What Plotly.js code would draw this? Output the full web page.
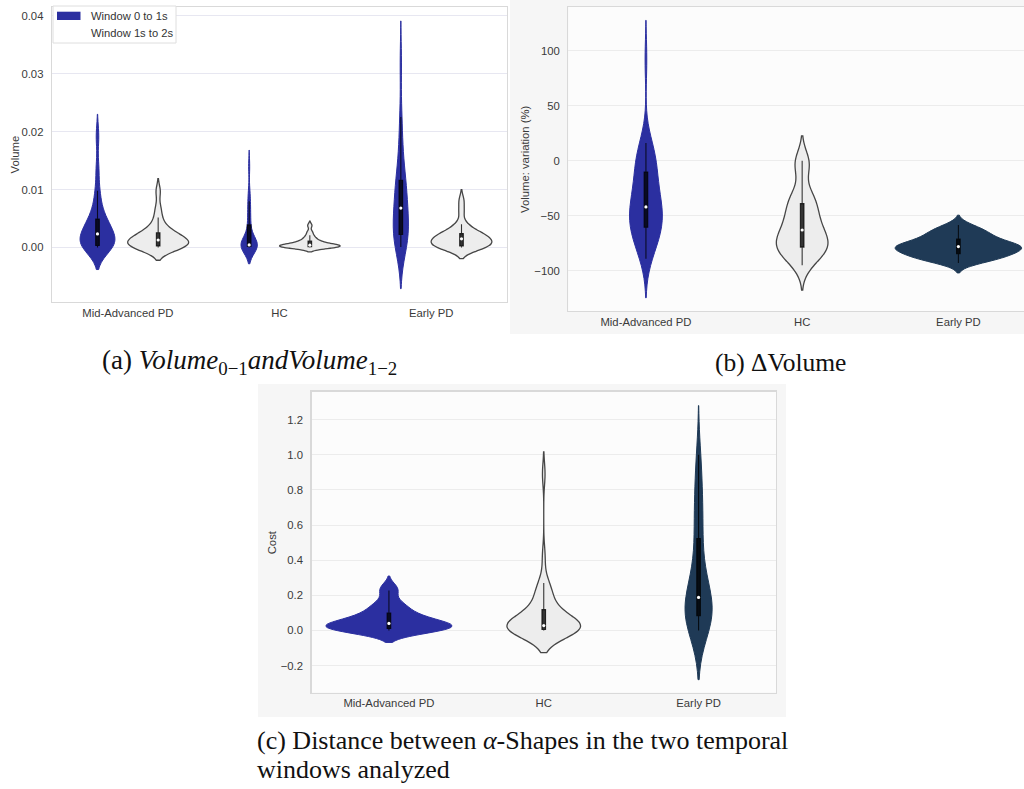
<!DOCTYPE html>
<html>
<head>
<meta charset="utf-8">
<script src="https://cdn.plot.ly/plotly-3.0.1.min.js"></script>
<style>
  html, body { margin: 0; padding: 0; background: #ffffff; }
  #chart { width: 1024px; height: 789px; }
</style>
</head>
<body>
<div id="chart"></div>
<script>
// Groups shown on every panel
const groups = ['Mid-Advanced PD', 'HC', 'Early PD'];
const legendLabels = ['Window 0 to 1s', 'Window 1s to 2s'];

// (a) Alpha-shape volume per subject, first and second temporal window
const volW01MidAdv = [0.0000, 0.0001, 0.0001, 0.0002, 0.0002, 0.0003, 0.0004, 0.0008, 0.0012, 0.0016, 0.0019, 0.0022,
                      0.0025, 0.0029, 0.0033, 0.0038, 0.0043, 0.0046, 0.0052, 0.0064, 0.0080, 0.0098, 0.0135, 0.0192];
const volW12MidAdv = [0.0000, 0.0000, 0.0001, 0.0001, 0.0002, 0.0002, 0.0003, 0.0005, 0.0007, 0.0009, 0.0010, 0.0012,
                      0.0014, 0.0016, 0.0018, 0.0020, 0.0022, 0.0024, 0.0027, 0.0033, 0.0040, 0.0052, 0.0068, 0.0097];
const volW01HC = [0.0000, 0.0000, 0.0001, 0.0001, 0.0001, 0.0002, 0.0002, 0.0002, 0.0003, 0.0003, 0.0004, 0.0004,
                  0.0005, 0.0007, 0.0010, 0.0015, 0.0022, 0.0033, 0.0045, 0.0055, 0.0068, 0.0080, 0.0095, 0.0140];
const volW12HC = [0.0000, 0.0000, 0.0000, 0.0001, 0.0001, 0.0001, 0.0002, 0.0002, 0.0002, 0.0003, 0.0003, 0.0004,
                  0.0004, 0.0005, 0.0006, 0.0007, 0.0008, 0.0010, 0.0012, 0.0014, 0.0017, 0.0021, 0.0027, 0.0038];
const volW01Early = [0.0001, 0.0005, 0.0010, 0.0014, 0.0018, 0.0021, 0.0024, 0.0030, 0.0037, 0.0045, 0.0053, 0.0062,
                     0.0074, 0.0081, 0.0089, 0.0097, 0.0104, 0.0110, 0.0122, 0.0135, 0.0158, 0.0190, 0.0225, 0.0319];
const volW12Early = [0.0000, 0.0000, 0.0001, 0.0001, 0.0002, 0.0002, 0.0003, 0.0005, 0.0008, 0.0010, 0.0012, 0.0014,
                     0.0016, 0.0017, 0.0018, 0.0020, 0.0021, 0.0023, 0.0025, 0.0029, 0.0035, 0.0040, 0.0062, 0.0081];

// (b) Volume variation between the two windows, in percent
const dVolMidAdv = [-89, -85, -81, -77, -74, -71, -68, -66, -64, -62, -60,
                    -58, -56, -54, -52, -50, -48, -47, -46, -44, -42,
                    -40, -37, -34, -31, -28, -25, -22, -19, -15, -11,
                    -8, -5, -2, 1, 4, 7, 10, 13, 16, 92];
const dVolHC = [-95, -90, -86, -83, -81, -80, -78, -76, -74, -72, -70, -68, -63,
                -60, -57, -53, -50, -45, -40, -36, -33, -30, -6, -2, 0];
const dVolEarly = [-93, -91, -89, -88, -87, -86, -84, -83, -82, -81, -80, -79, -78,
                   -77.5, -77, -76, -75, -73.5, -71.5, -70, -68, -66, -64, -62, -58.5];

// (c) Distance (cost) between the alpha-shapes of the two windows
const costMidAdv = [0.000, 0.002, 0.004, 0.006, 0.008, 0.010, 0.012, 0.016, 0.020, 0.025, 0.030, 0.035, 0.040,
                    0.046, 0.053, 0.060, 0.068, 0.080, 0.095, 0.110, 0.125, 0.145, 0.165, 0.228, 0.242];
const costHC = [0.000, 0.001, 0.001, 0.002, 0.002, 0.003, 0.003, 0.004, 0.005, 0.005, 0.006,
                0.008, 0.010, 0.012, 0.014, 0.016, 0.018, 0.020, 0.022, 0.025, 0.028,
                0.032, 0.037, 0.042, 0.048, 0.055, 0.063, 0.072, 0.083, 0.098, 0.115,
                0.130, 0.148, 0.168, 0.190, 0.212, 0.235, 0.255, 0.270, 0.420, 0.890];
const costEarly = [0.000, 0.015, 0.030, 0.045, 0.060, 0.075, 0.087, 0.100, 0.115, 0.130, 0.150, 0.168, 0.188,
                   0.210, 0.240, 0.280, 0.330, 0.410, 0.505, 0.580, 0.650, 0.720, 0.800, 0.900, 1.000];

// Axis ticks
const volTicks = [0, 0.01, 0.02, 0.03, 0.04];
const dVolTicks = [-100, -50, 0, 50, 100];
const costTicks = [-0.2, 0.0, 0.2, 0.4, 0.6, 0.8, 1.0, 1.2];

// ---------- styling ----------
const BLUE = '#2b2fa0';
const NAVY = '#1f3a56';
const LIGHT = '#ededed';
const EDGE = '#464646';
const INNER = 'rgba(0,0,0,0.78)';
const W = 1024, H = 789;
const px = v => v / W;            // horizontal pixel -> paper
const py = v => 1 - v / H;        // vertical pixel -> paper

function median(arr) {
  const s = arr.slice().sort((a, b) => a - b);
  const p = (s.length - 1) / 2, lo = Math.floor(p), hi = Math.ceil(p);
  return s[lo] + (s[hi] - s[lo]) * (p - lo);
}

// One violin with seaborn-like inner box (thick IQR bar, thin whiskers)
function violin(sfx, pos, values, o) {
  return {
    type: 'violin', xaxis: 'x' + sfx, yaxis: 'y' + sfx,
    x0: pos, y: values, width: o.width, bandwidth: o.bw,
    scalemode: 'width', spanmode: 'soft',
    fillcolor: o.fill, line: { color: o.edge, width: o.lw },
    points: false, hoverinfo: 'skip', showlegend: false,
    box: { visible: true, width: 3.6 / (o.width * o.ppu), fillcolor: INNER,
           line: { color: INNER, width: 1.1 } },
    meanline: { visible: false }
  };
}

function medianDots(sfx, list) {
  return {
    type: 'scatter', mode: 'markers', xaxis: 'x' + sfx, yaxis: 'y' + sfx,
    x: list.map(d => d[0]), y: list.map(d => median(d[1])),
    marker: { size: 3.2, color: '#ffffff', line: { width: 0 } },
    hoverinfo: 'skip', showlegend: false, cliponaxis: false
  };
}

const blueA = { fill: BLUE, edge: BLUE, lw: 1 };
const whiteA = { fill: LIGHT, edge: EDGE, lw: 1.3 };
const navyA = { fill: NAVY, edge: NAVY, lw: 1 };

const ppuA = 151.7, ppuB = 156.2, ppuC = 154.8;
const off = 0.2;  // hue offset inside a group (panel a)

const panelA = [
  [0 - off, volW01MidAdv, { ...blueA, width: 0.229, bw: 0.0019, ppu: ppuA }],
  [0 + off, volW12MidAdv, { ...whiteA, width: 0.40, bw: 0.0011, ppu: ppuA }],
  [1 - off, volW01HC, { ...blueA, width: 0.108, bw: 0.0014, ppu: ppuA }],
  [1 + off, volW12HC, { ...whiteA, width: 0.40, bw: 0.00037, ppu: ppuA }],
  [2 - off, volW01Early, { ...blueA, width: 0.10, bw: 0.0036, ppu: ppuA }],
  [2 + off, volW12Early, { ...whiteA, width: 0.40, bw: 0.00095, ppu: ppuA }]
];
const panelB = [
  [0, dVolMidAdv, { ...blueA, width: 0.21, bw: 17.8, ppu: ppuB }],
  [1, dVolHC, { ...whiteA, width: 0.33, bw: 11.3, ppu: ppuB }],
  [2, dVolEarly, { ...navyA, width: 0.81, bw: 4.5, ppu: ppuB }]
];
const panelC = [
  [0, costMidAdv, { ...blueA, width: 0.81, bw: 0.034, ppu: ppuC }],
  [1, costHC, { ...whiteA, width: 0.474, bw: 0.063, ppu: ppuC }],
  [2, costEarly, { ...navyA, width: 0.175, bw: 0.14, ppu: ppuC }]
];

const traces = [];
[['', panelA], ['2', panelB], ['3', panelC]].forEach(([sfx, list]) => {
  list.forEach(d => traces.push(violin(sfx, d[0], d[1], d[2])));
  traces.push(medianDots(sfx, list));
});

// ---------- axes ----------
const tickFont = { family: 'Liberation Sans, Arial, sans-serif', size: 11.3, color: '#3a3a3a' };
const FRAME = '#d9d9d9';

function xAxis(dom, range, anchor) {
  return {
    domain: dom, range: range, anchor: anchor, fixedrange: true,
    tickmode: 'array', tickvals: [0, 1, 2], ticktext: groups,
    showgrid: false, zeroline: false, ticks: '', ticklabelstandoff: 0,
    showline: true, linecolor: FRAME, linewidth: 1.3, mirror: true,
    tickfont: tickFont
  };
}
function yAxis(dom, range, anchor, tickvals, fmt, grid, mirror) {
  return {
    domain: dom, range: range, anchor: anchor, fixedrange: true,
    tickmode: 'array', tickvals: tickvals, tickformat: fmt,
    showgrid: true, gridcolor: grid, gridwidth: 1, zeroline: false,
    ticks: '', ticklabelstandoff: 5,
    showline: true, linecolor: FRAME, linewidth: 1.3, mirror: mirror,
    tickfont: tickFont
  };
}

const domA = { x: [px(52), px(507)], y: [py(302), py(7)] };
const domB = { x: [px(568.3), 1], y: [py(311), py(7)] };
const domC = { x: [px(311.5), px(776)], y: [py(692.5), py(391.7)] };

// ---------- decorations ----------
const shapes = [
  // panel backgrounds (b) and (c)
  { type: 'rect', xref: 'paper', yref: 'paper', x0: px(510), x1: 1, y0: py(334), y1: 1,
    fillcolor: '#f6f6f6', line: { width: 0 }, layer: 'below' },
  { type: 'rect', xref: 'paper', yref: 'paper', x0: px(258), x1: px(786), y0: py(717), y1: py(384),
    fillcolor: '#f6f6f6', line: { width: 0 }, layer: 'below' },
  { type: 'rect', xref: 'x2 domain', yref: 'y2 domain', x0: 0, x1: 1, y0: 0, y1: 1,
    fillcolor: '#fcfcfc', line: { width: 0 }, layer: 'below' },
  { type: 'rect', xref: 'x3 domain', yref: 'y3 domain', x0: 0, x1: 1, y0: 0, y1: 1,
    fillcolor: '#fcfcfc', line: { width: 0 }, layer: 'below' },
  // legend frame and swatch of panel (a)
  { type: 'rect', xref: 'paper', yref: 'paper', x0: px(53), x1: px(176), y0: py(43), y1: py(6),
    fillcolor: '#ffffff', line: { color: '#dedede', width: 1 }, layer: 'above' },
  { type: 'rect', xref: 'paper', yref: 'paper', x0: px(57), x1: px(80.5), y0: py(20), y1: py(11.7),
    fillcolor: BLUE, line: { width: 0 }, layer: 'above' },
  { type: 'rect', xref: 'paper', yref: 'paper', x0: px(57), x1: px(80.5), y0: py(36.5), y1: py(28.2),
    fillcolor: '#ffffff', line: { width: 0 }, layer: 'above' }
];

const labelFont = { family: 'Liberation Sans, Arial, sans-serif', size: 11.2, color: '#333333' };
const titleFont = { family: 'Liberation Sans, Arial, sans-serif', size: 11.3, color: '#3a3a3a' };
const capFont = { family: 'Liberation Serif, Times New Roman, serif', size: 25.5, color: '#111111' };
const capFontA = Object.assign({}, capFont, { size: 27 });
const capFontC = Object.assign({}, capFont, { size: 26 });

function note(text, x, y, font, extra) {
  return Object.assign({ text: text, xref: 'paper', yref: 'paper', x: x, y: y,
    showarrow: false, font: font, xanchor: 'left', yanchor: 'middle' }, extra || {});
}

const annotations = [
  note(legendLabels[0], px(88.5), py(16), labelFont),
  note(legendLabels[1], px(88.5), py(32.5), labelFont),
  note('Volume', px(14), py(154.5), titleFont, { textangle: -90, xanchor: 'center' }),
  note('Volume: variation (%)', px(525), py(159), titleFont, { textangle: -90, xanchor: 'center' }),
  note('Cost', px(272.3), py(542), titleFont, { textangle: -90, xanchor: 'center' }),
  note('(a) <i>Volume</i><sub>0\u22121</sub><i>andVolume</i><sub>1\u22122</sub>', px(100), py(362), capFontA),
  note('(b) \u0394Volume', px(713), py(362), capFont),
  note('(c) Distance between <i>\u03b1</i>-Shapes in the two temporal', px(255.4), py(740.5), capFontC),
  note('windows analyzed', px(255.4), py(769), capFontC)
];

const layout = {
  width: W, height: H, margin: { l: 0, r: 0, t: 0, b: 0 },
  paper_bgcolor: '#ffffff', plot_bgcolor: 'rgba(0,0,0,0)',
  showlegend: false, violinmode: 'overlay',
  xaxis: xAxis(domA.x, [-0.5, 2.5], 'y'),
  yaxis: yAxis(domA.y, [-0.0094, 0.0415], 'x', volTicks, '.2f', '#e7e7f1', true),
  xaxis2: xAxis(domB.x, [-0.497, 2.42], 'y2'),
  yaxis2: yAxis(domB.y, [-136.6, 139.7], 'x2', dVolTicks, '', '#ececec', false),
  xaxis3: xAxis(domC.x, [-0.5, 2.5], 'y3'),
  yaxis3: yAxis(domC.y, [-0.353, 1.359], 'x3', costTicks, '.1f', '#ececec', true),
  shapes: shapes, annotations: annotations
};

Plotly.newPlot('chart', traces, layout, { staticPlot: true, displayModeBar: false });
</script>
</body>
</html>
